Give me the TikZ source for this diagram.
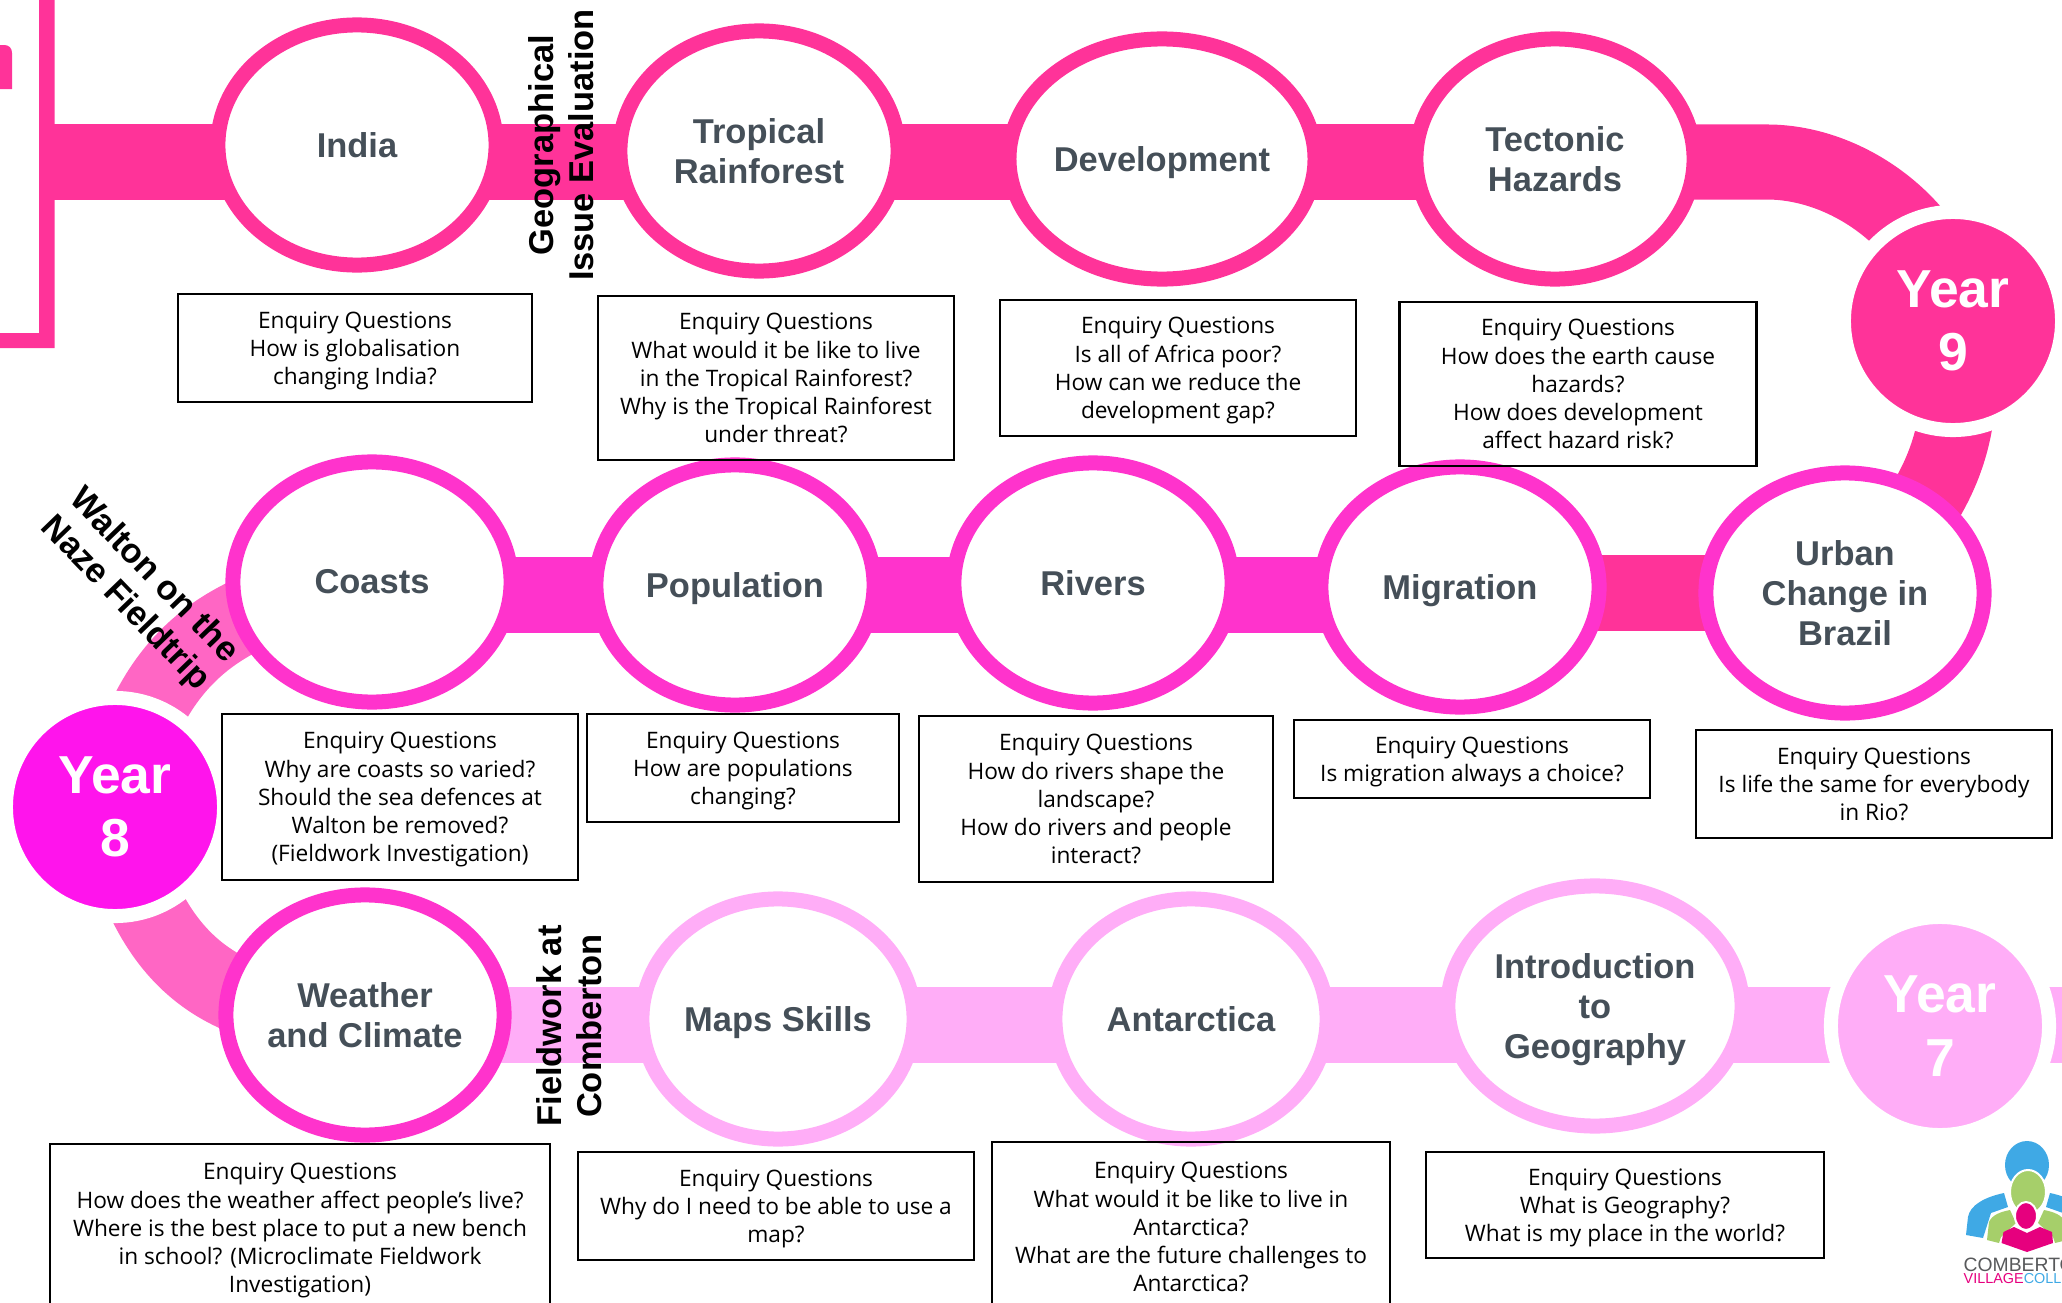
\documentclass[tikz,border=0pt]{standalone}
\usepackage{fontspec}
\setmainfont{Liberation Sans}
\newfontfamily\enquiryfont{Open Sans}
\usetikzlibrary{positioning,shapes,calc,backgrounds}
\definecolor{yearnine}{HTML}{FF3399}
\definecolor{yeareight}{HTML}{FF33CC}
\definecolor{yeareightdot}{HTML}{FF14EC}
\definecolor{yearseven}{HTML}{FFADF7}
\definecolor{curvepink}{HTML}{FF66C4}
\definecolor{topicgrey}{HTML}{454F58}
\definecolor{logoblue}{HTML}{3FA9E5}
\definecolor{logogreen}{HTML}{A6CF6A}
\definecolor{logopink}{HTML}{E6007E}
\definecolor{logogrey}{HTML}{58595B}
\tikzset{
topic node/.style={ellipse,draw,fill=white,line width=.15cm,minimum width=2.78cm,minimum height=2.4cm,inner sep=0pt,align=center,text=topicgrey,font=\fontsize{9.8pt}{11.4pt}\selectfont\bfseries},
year node/.style={circle,draw=white,line width=.14cm,minimum size=2.18cm,inner sep=0pt,align=center,text=white,font=\fontsize{15.2pt}{18pt}\selectfont\bfseries},
question box/.style={rectangle,draw=black,line width=.025cm,inner sep=0pt,align=center,text=black,text depth=0pt,font=\fontsize{6.45pt}{8.05pt}\selectfont\enquiryfont},
side label/.style={inner sep=0pt,align=center,text=black,font=\fontsize{9.8pt}{11.3pt}\selectfont\bfseries},
band/.style={line width=.75cm}
}
\begin{document}
\begin{tikzpicture}[x=.01cm,y=-.01cm]
\clip[use as bounding box] (0,0) rectangle (2062,1303);
% frame at the left edge
\fill[yearnine] (39,0) -- (39,333) -- (0,333) -- (0,348) -- (54.5,348) -- (54.5,0) -- cycle;
\fill[yearnine] (0,45) -- (4,45) .. controls (9,45) and (12,48) .. (12,53) -- (12,89) -- (0,89) -- cycle;
% rows of topics
\coordinate (toprow) at (0,162);
\coordinate (midrow) at (0,595);
\coordinate (lowrow) at (0,1025);
\coordinate (framestart) at (47,162);
\coordinate (tectonicbend) at (1767,162);
\coordinate (rightend) at (2062,1025);
\node[topic node,draw=yearnine] (india) at (357,145) {India};
\node[topic node,draw=yearnine] (tropical) at (759,151) {Tropical\\Rainforest};
\node[topic node,draw=yearnine,minimum width=3.04cm,text depth=0pt] (development) at (1162,159) {Development};
\node[topic node,draw=yearnine] (tectonic) at (1555,159) {Tectonic\\Hazards};
\node[topic node,draw=yeareight] (coasts) at (372,582) {Coasts};
\node[topic node,draw=yeareight,text depth=0pt] (population) at (735,585) {Population};
\node[topic node,draw=yeareight] (rivers) at (1093,583) {Rivers};
\node[topic node,draw=yeareight,text depth=0pt] (migration) at (1460,587) {Migration};
\node[topic node,draw=yeareight] (urban) at (1845,593) {Urban\\Change in\\Brazil};
\node[topic node,draw=yeareight] (weather) at (365,1015) {Weather\\and Climate};
\node[topic node,draw=yearseven,minimum width=2.72cm,text depth=0pt] (maps) at (778,1019) {Maps Skills};
\node[topic node,draw=yearseven,minimum width=2.72cm] (antarctica) at (1191,1019) {Antarctica};
\node[topic node,draw=yearseven,minimum width=2.94cm,text depth=0pt] (intro) at (1595,1006) {Introduction\\to\\Geography};
\node[year node,fill=yearnine] (year9) at (1953,321) {Year\\9};
\node[year node,fill=yeareightdot] (year8) at (115,807) {Year\\8};
\node[year node,fill=yearseven] (year7) at (1940,1026) {Year\\7};
% connecting bands
\begin{scope}[on background layer]
\draw[band,yearnine] (framestart) -- (india |- toprow);
\draw[band,yearnine] (india |- toprow) -- (tropical |- toprow);
\draw[band,yearnine] (tropical |- toprow) -- (development |- toprow);
\draw[band,yearnine] (development |- toprow) -- (tectonic |- toprow);
\draw[band,yearnine] (tectonic |- toprow) -- (tectonicbend) .. controls (1855,162) and (1945,235) .. (year9.center);
\draw[band,yearnine] (year9.center) .. controls (1970,420) and (1952,500) .. (urban.center);
\draw[band,yearnine] (urban.center) -- (migration |- urban);
\draw[band,yeareight] (migration |- midrow) -- (rivers |- midrow);
\draw[band,yeareight] (rivers |- midrow) -- (population |- midrow);
\draw[band,yeareight] (population |- midrow) -- (coasts |- midrow);
\draw[band,curvepink] (coasts.center) .. controls (205,603) and (147,670) .. (year8.center);
\draw[band,curvepink] (year8.center) .. controls (143,950) and (210,1020) .. (weather.center);
\draw[band,yearseven] (weather |- lowrow) -- (maps |- lowrow);
\draw[band,yearseven] (maps |- lowrow) -- (antarctica |- lowrow);
\draw[band,yearseven] (antarctica |- lowrow) -- (intro |- lowrow);
\draw[band,yearseven] (intro |- lowrow) -- (year7 |- lowrow);
\draw[band,yearseven] (year7 |- lowrow) -- (rightend);
\end{scope}
% side labels
\node[side label,rotate=90] (evaluation) at (561,145) {Geographical\\Issue Evaluation};
\node[side label,rotate=-46] (walton) at (139,590) {Walton on the\\Naze Fieldtrip};
\node[side label,rotate=90] (fieldwork) at (569,1026) {Fieldwork at\\Comberton};
% enquiry questions
\node[question box,minimum width=3.54cm,minimum height=1.08cm] (indiaq) at (355,348) {Enquiry Questions\\How is globalisation\\changing India?};
\node[question box,minimum width=3.56cm,minimum height=1.64cm] (tropicalq) at (776,378) {Enquiry Questions\\What would it be like to live\\in the Tropical Rainforest?\\Why is the Tropical Rainforest\\under threat?};
\node[question box,minimum width=3.56cm,minimum height=1.36cm] (developmentq) at (1178,368) {Enquiry Questions\\Is all of Africa poor?\\How can we reduce the\\development gap?};
\node[question box,minimum width=3.57cm,minimum height=1.64cm] (tectonicq) at (1578,384) {Enquiry Questions\\How does the earth cause\\hazards?\\How does development\\affect hazard risk?};
\node[question box,minimum width=3.56cm,minimum height=1.66cm] (coastsq) at (400,797) {Enquiry Questions\\Why are coasts so varied?\\Should the sea defences at\\Walton be removed?\\(Fieldwork Investigation)};
\node[question box,minimum width=3.12cm,minimum height=1.08cm] (populationq) at (743,768) {Enquiry Questions\\How are populations\\changing?};
\node[question box,minimum width=3.54cm,minimum height=1.66cm] (riversq) at (1096,799) {Enquiry Questions\\How do rivers shape the\\landscape?\\How do rivers and people\\interact?};
\node[question box,minimum width=3.56cm,minimum height=.78cm] (migrationq) at (1472,759) {Enquiry Questions\\Is migration always a choice?};
\node[question box,minimum width=3.56cm,minimum height=1.08cm] (urbanq) at (1874,784) {Enquiry Questions\\Is life the same for everybody\\in Rio?};
\node[question box,minimum width=5cm,minimum height=1.68cm] (weatherq) at (300,1228) {Enquiry Questions\\How does the weather affect people’s live?\\Where is the best place to put a new bench\\in school? (Microclimate Fieldwork\\Investigation)};
\node[question box,minimum width=3.96cm,minimum height=1.08cm] (mapsq) at (776,1206) {Enquiry Questions\\Why do I need to be able to use a\\map?};
\node[question box,minimum width=3.98cm,minimum height=1.7cm] (antarcticaq) at (1191,1227) {Enquiry Questions\\What would it be like to live in\\Antarctica?\\What are the future challenges to\\Antarctica?};
\node[question box,minimum width=3.98cm,minimum height=1.06cm] (introq) at (1625,1205) {Enquiry Questions\\What is Geography?\\What is my place in the world?};
% college logo
\fill[logoblue] (2027,1165) ellipse (22 and 24);
\fill[logoblue] (1966,1235) -- (1968,1217) .. controls (1970,1205) and (1985,1197) .. (2004,1193) -- (2008,1207) -- (1991,1213) -- (1983,1238) -- cycle;
\fill[logoblue] (2088,1235) -- (2086,1217) .. controls (2084,1205) and (2069,1197) .. (2050,1193) -- (2046,1207) -- (2063,1213) -- (2071,1238) -- cycle;
\filldraw[logogreen,draw=white,line width=.02cm] (2028,1192) ellipse (18 and 22);
\fill[logogreen] (1987,1240) -- (1989,1222) .. controls (1992,1215) and (2000,1212) .. (2010,1210) -- (2016,1223) -- (2001,1237) -- (1999,1243) -- cycle;
\fill[logogreen] (2067,1240) -- (2065,1222) .. controls (2062,1215) and (2054,1212) .. (2044,1210) -- (2038,1223) -- (2053,1237) -- (2055,1243) -- cycle;
\filldraw[logopink,draw=white,line width=.02cm] (2026,1216) ellipse (11 and 14);
\fill[logopink] (2001.5,1243) -- (2003.5,1232) -- (2014,1227) -- (2027,1233) -- (2040,1227) -- (2052,1232) -- (2053,1243) -- (2027,1252) -- cycle;
\node[anchor=west,inner sep=0pt,text=logogrey,font=\fontsize{5.5pt}{6pt}\selectfont] (collegename) at (1963,1265) {COMBERTON};
\node[anchor=west,inner sep=0pt,font=\fontsize{4.1pt}{5pt}\selectfont] (collegetype) at (1963,1279) {\textcolor{logopink}{VILLAGE}\textcolor{logoblue}{COLLEGE}};
\end{tikzpicture}
\end{document}
